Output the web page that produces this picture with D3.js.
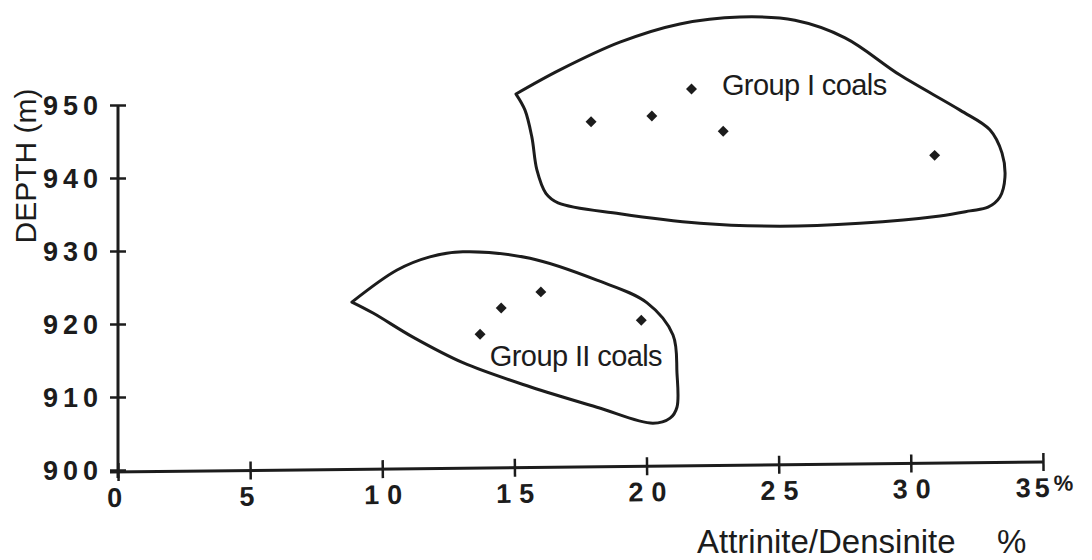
<!DOCTYPE html>
<html>
<head>
<meta charset="utf-8">
<script src="https://cdn.jsdelivr.net/npm/d3@7"></script>
<style>
  html, body { margin: 0; padding: 0; background: #fff; }
  svg { display: block; }
  text { font-family: "Liberation Sans", Arial, Helvetica, sans-serif; fill: #1c1c1c; }
</style>
</head>
<body>
<svg id="chart" width="1092" height="560"></svg>
<script>
// Attrinite/Densinite ratio (%) vs depth (m) for the two coal groups
const groupI_ratio = [17.9, 20.2, 21.7, 22.9, 30.9];
const groupI_depth = [947.7, 948.5, 952.2, 946.4, 943.1];
const groupII_ratio = [13.7, 14.5, 16.0, 19.8];
const groupII_depth = [918.6, 922.2, 924.4, 920.5];

// hand-drawn envelopes around each group (ratio %, depth m)
const envelopeI_ratio = [15.06, 16.72, 18.99, 21.26, 23.53, 25.61, 27.51, 29.59, 31.86, 32.99, 33.45, 33.56, 33.37, 32.92, 32.24, 31.10, 28.07, 25.05, 22.02, 18.99, 16.65, 16.19, 15.85, 15.66, 15.40, 15.06];
const envelopeI_depth = [951.5, 954.8, 958.6, 961.1, 962.05, 961.6, 959.2, 954.1, 949.3, 946.6, 943.4, 940.1, 937.4, 936.0, 935.5, 934.8, 933.8, 933.4, 933.8, 935.1, 936.6, 937.9, 941.1, 945.6, 949.3, 951.5];
const envelopeII_ratio = [8.85, 10.56, 11.80, 13.05, 15.59, 18.12, 20.02, 21.00, 21.15, 21.15, 20.89, 20.24, 18.12, 15.59, 13.05, 11.16, 9.65, 8.85];
const envelopeII_depth = [923.0, 927.4, 929.2, 929.9, 929.0, 926.0, 922.9, 918.5, 913.3, 908.6, 907.1, 906.4, 908.6, 911.4, 914.7, 918.2, 921.5, 923.0];

// group labels (anchor in data units)
const groupLabels = ["Group I coals", "Group II coals"];
const groupLabel_ratio = [22.85, 14.07];
const groupLabel_depth = [951.4, 914.3];

const xTicks = [0, 5, 10, 15, 20, 25, 30, 35];
const yTicks = [900, 910, 920, 930, 940, 950];
const xTitle = "Attrinite/Densinite";
const xUnit = "%";
const yTitle = "DEPTH (m)";

const ink = "#1c1c1c";
const svg = d3.select("#chart");

const x = d3.scaleLinear().domain([0, 35]).range([118, 1043]);
const y = d3.scaleLinear().domain([900, 950]).range([470, 105]);

// envelopes
const outline = d3.line()
  .x(d => x(d[0])).y(d => y(d[1]))
  .curve(d3.curveCatmullRom.alpha(0.5));

[[envelopeI_ratio, envelopeI_depth], [envelopeII_ratio, envelopeII_depth]].forEach(([r, dp]) => {
  svg.append("path")
    .attr("d", outline(r.map((v, i) => [v, dp[i]])))
    .attr("fill", "none")
    .attr("stroke", ink)
    .attr("stroke-width", 3)
    .attr("stroke-linejoin", "round")
    .attr("stroke-linecap", "round");
});

// y axis
const yAxis = svg.append("g")
  .attr("transform", `translate(${x(0)},0)`)
  .call(d3.axisLeft(y).tickValues(yTicks).tickSize(0).tickPadding(0));
yAxis.select(".domain").remove();
yAxis.append("line")
  .attr("y1", y(950)).attr("y2", y(900) + 8)
  .attr("stroke", ink).attr("stroke-width", 3);
yAxis.selectAll(".tick line")
  .attr("x1", -8).attr("x2", 8)
  .attr("stroke", ink).attr("stroke-width", 2.5);
yAxis.selectAll(".tick text")
  .attr("x", -15)
  .attr("dy", "0.36em")
  .style("font-size", "27px")
  .style("font-weight", "bold")
  .style("letter-spacing", "5px")
  .style("fill", ink);

// x axis (drawn with a slight upward drift to the right)
const xAxis = svg.append("g")
  .attr("transform", `translate(0,${y(900) + 2}) rotate(-0.62 ${x(0)} 0)`)
  .call(d3.axisBottom(x).tickValues(xTicks).tickSize(0).tickPadding(0)
    .tickFormat(d => d));
xAxis.select(".domain").remove();
xAxis.append("line")
  .attr("x1", x(0) - 8).attr("x2", x(35))
  .attr("stroke", ink).attr("stroke-width", 3);
xAxis.selectAll(".tick line")
  .attr("y1", -9).attr("y2", 9)
  .attr("stroke", ink).attr("stroke-width", 2.5);
xAxis.selectAll(".tick text")
  .attr("y", 35)
  .attr("dy", 0)
  .attr("dx", d => d >= 10 ? 4 : 0)
  .style("font-size", "27px")
  .style("font-weight", "bold")
  .style("letter-spacing", "8px")
  .style("fill", ink);
xAxis.selectAll(".tick text")
  .filter(d => d === 35)
  .attr("text-anchor", "start")
  .attr("x", -28)
  .attr("dx", 0)
  .style("letter-spacing", "4px")
  .append("tspan")
  .attr("dy", -6)
  .style("font-size", "22px")
  .style("letter-spacing", "0px")
  .text(xUnit);

// axis titles
svg.append("text")
  .attr("x", 697).attr("y", 553)
  .style("font-size", "33px")
  .text(xTitle);
svg.append("text")
  .attr("x", 997).attr("y", 553)
  .style("font-size", "33px")
  .text(xUnit);
svg.append("text")
  .attr("transform", `translate(36,166) rotate(-90)`)
  .attr("text-anchor", "middle")
  .style("font-size", "30px")
  .text(yTitle);

// data points
const diamond = d3.symbol().type(d3.symbolSquare).size(60);
const pts = groupI_ratio.map((v, i) => [v, groupI_depth[i]])
  .concat(groupII_ratio.map((v, i) => [v, groupII_depth[i]]));
svg.append("g").selectAll("path")
  .data(pts)
  .join("path")
  .attr("d", diamond)
  .attr("transform", d => `translate(${x(d[0])},${y(d[1])}) rotate(45)`)
  .attr("fill", ink);

// group labels
svg.append("g").selectAll("text")
  .data(groupLabels)
  .join("text")
  .attr("x", (d, i) => x(groupLabel_ratio[i]))
  .attr("y", (d, i) => y(groupLabel_depth[i]))
  .style("font-size", "29px")
  .style("letter-spacing", "-0.6px")
  .text(d => d);
</script>
</body>
</html>
